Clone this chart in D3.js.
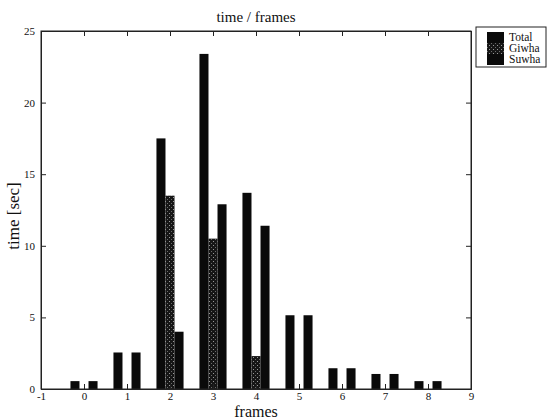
<!DOCTYPE html>
<html>
<head>
<meta charset="utf-8">
<script src="https://cdn.jsdelivr.net/npm/d3@7"></script>
<style>
  html, body { margin: 0; padding: 0; background: #fff; }
  svg { display: block; }
  text { font-family: "Liberation Serif", "DejaVu Serif", serif; fill: #111; }
</style>
</head>
<body>
<svg id="chart" width="548" height="419"></svg>
<script>
// Frame counts and time spent per frame count
const frames = [0, 1, 2, 3, 4, 5, 6, 7, 8];
const seriesNames = ["Total", "Giwha", "Suwha"];
const total = [0.55, 2.55, 17.5, 23.4, 13.7, 5.15, 1.45, 1.05, 0.55];
const giwha = [0, 0, 13.5, 10.5, 2.3, 0, 0, 0, 0];
const suwha = [0.55, 2.55, 4.0, 12.9, 11.4, 5.15, 1.45, 1.05, 0.55];
const xTicks = [-1, 0, 1, 2, 3, 4, 5, 6, 7, 8, 9];
const yTicks = [0, 5, 10, 15, 20, 25];

const seriesValues = { Total: total, Giwha: giwha, Suwha: suwha };

const svg = d3.select("#chart");
const plotL = 41, plotR = 471, plotT = 31, plotB = 389;

const x = d3.scaleLinear().domain([-1, 9]).range([plotL, plotR]);
const y = d3.scaleLinear().domain([0, 25]).range([plotB, plotT]);
// position of each series inside a group, in frame units
const offset = d3.scaleBand().domain(seriesNames).range([-0.315, 0.315]).padding(0);

// Giwha bars: dark fill with light speckle
const defs = svg.append("defs");
const pat = defs.append("pattern")
  .attr("id", "speckle").attr("patternUnits", "userSpaceOnUse")
  .attr("width", 4).attr("height", 4);
pat.append("rect").attr("width", 4).attr("height", 4).attr("fill", "#161616");
pat.append("rect").attr("x", 1).attr("y", 1).attr("width", 1).attr("height", 1).attr("fill", "#9a9a9a");
pat.append("rect").attr("x", 3).attr("y", 3).attr("width", 1).attr("height", 1).attr("fill", "#6a6a6a");

const fills = { Total: "#0a0a0a", Giwha: "url(#speckle)", Suwha: "#0a0a0a" };

// bars
const barData = [];
seriesNames.forEach(s => {
  frames.forEach((f, i) => barData.push({ s, f, v: seriesValues[s][i] }));
});
svg.append("g").selectAll("rect")
  .data(barData.filter(d => d.v > 0))
  .join("rect")
  .attr("x", d => x(d.f + offset(d.s)))
  .attr("width", d => x(d.f + offset(d.s) + offset.bandwidth()) - x(d.f + offset(d.s)))
  .attr("y", d => y(d.v))
  .attr("height", d => y(0) - y(d.v))
  .attr("fill", d => fills[d.s]);

// frame box
svg.append("rect")
  .attr("x", plotL).attr("y", plotT)
  .attr("width", plotR - plotL).attr("height", plotB - plotT)
  .attr("fill", "none").attr("stroke", "#222").attr("stroke-width", 1);

// axes with inward ticks
const fmt = d => String(d);
const xAxis = d3.axisBottom(x).tickValues(xTicks).tickSize(-5).tickPadding(3).tickFormat(fmt);
const yAxis = d3.axisLeft(y).tickValues(yTicks).tickSize(-5).tickPadding(6).tickFormat(fmt);

const gx = svg.append("g").attr("transform", `translate(0,${plotB})`).call(xAxis);
const gy = svg.append("g").attr("transform", `translate(${plotL},0)`).call(yAxis);
const gxTop = svg.append("g").attr("transform", `translate(0,${plotT})`)
  .call(d3.axisTop(x).tickValues(xTicks).tickSize(-5).tickFormat(""));
const gyRight = svg.append("g").attr("transform", `translate(${plotR},0)`)
  .call(d3.axisRight(y).tickValues(yTicks).tickSize(-5).tickFormat(""));

[gx, gy, gxTop, gyRight].forEach(g => {
  g.attr("font-family", null);
  g.select(".domain").attr("stroke", "#222");
  g.selectAll(".tick line").attr("stroke", "#222");
  g.selectAll(".tick text").attr("font-size", 11).attr("fill", "#111");
});

// titles
svg.append("text").attr("x", (plotL + plotR) / 2).attr("y", 22)
  .attr("text-anchor", "middle").attr("font-size", 15).text("time / frames");
svg.append("text").attr("x", (plotL + plotR) / 2).attr("y", 417)
  .attr("text-anchor", "middle").attr("font-size", 16).text("frames");
svg.append("text")
  .attr("transform", `translate(19,${(plotT + plotB) / 2 + 6}) rotate(-90)`)
  .attr("text-anchor", "middle").attr("font-size", 17).text("time [sec]");

// legend
const lg = svg.append("g");
lg.append("rect").attr("x", 476).attr("y", 27).attr("width", 70).attr("height", 40)
  .attr("fill", "#fff").attr("stroke", "#222");
seriesNames.forEach((s, i) => {
  const ly = 32 + i * 11;
  lg.append("rect").attr("x", 487).attr("y", ly).attr("width", 17).attr("height", 11)
    .attr("fill", fills[s]);
  lg.append("text").attr("x", 509).attr("y", ly + 9)
    .attr("font-size", 11.5).text(s);
});
</script>
</body>
</html>
